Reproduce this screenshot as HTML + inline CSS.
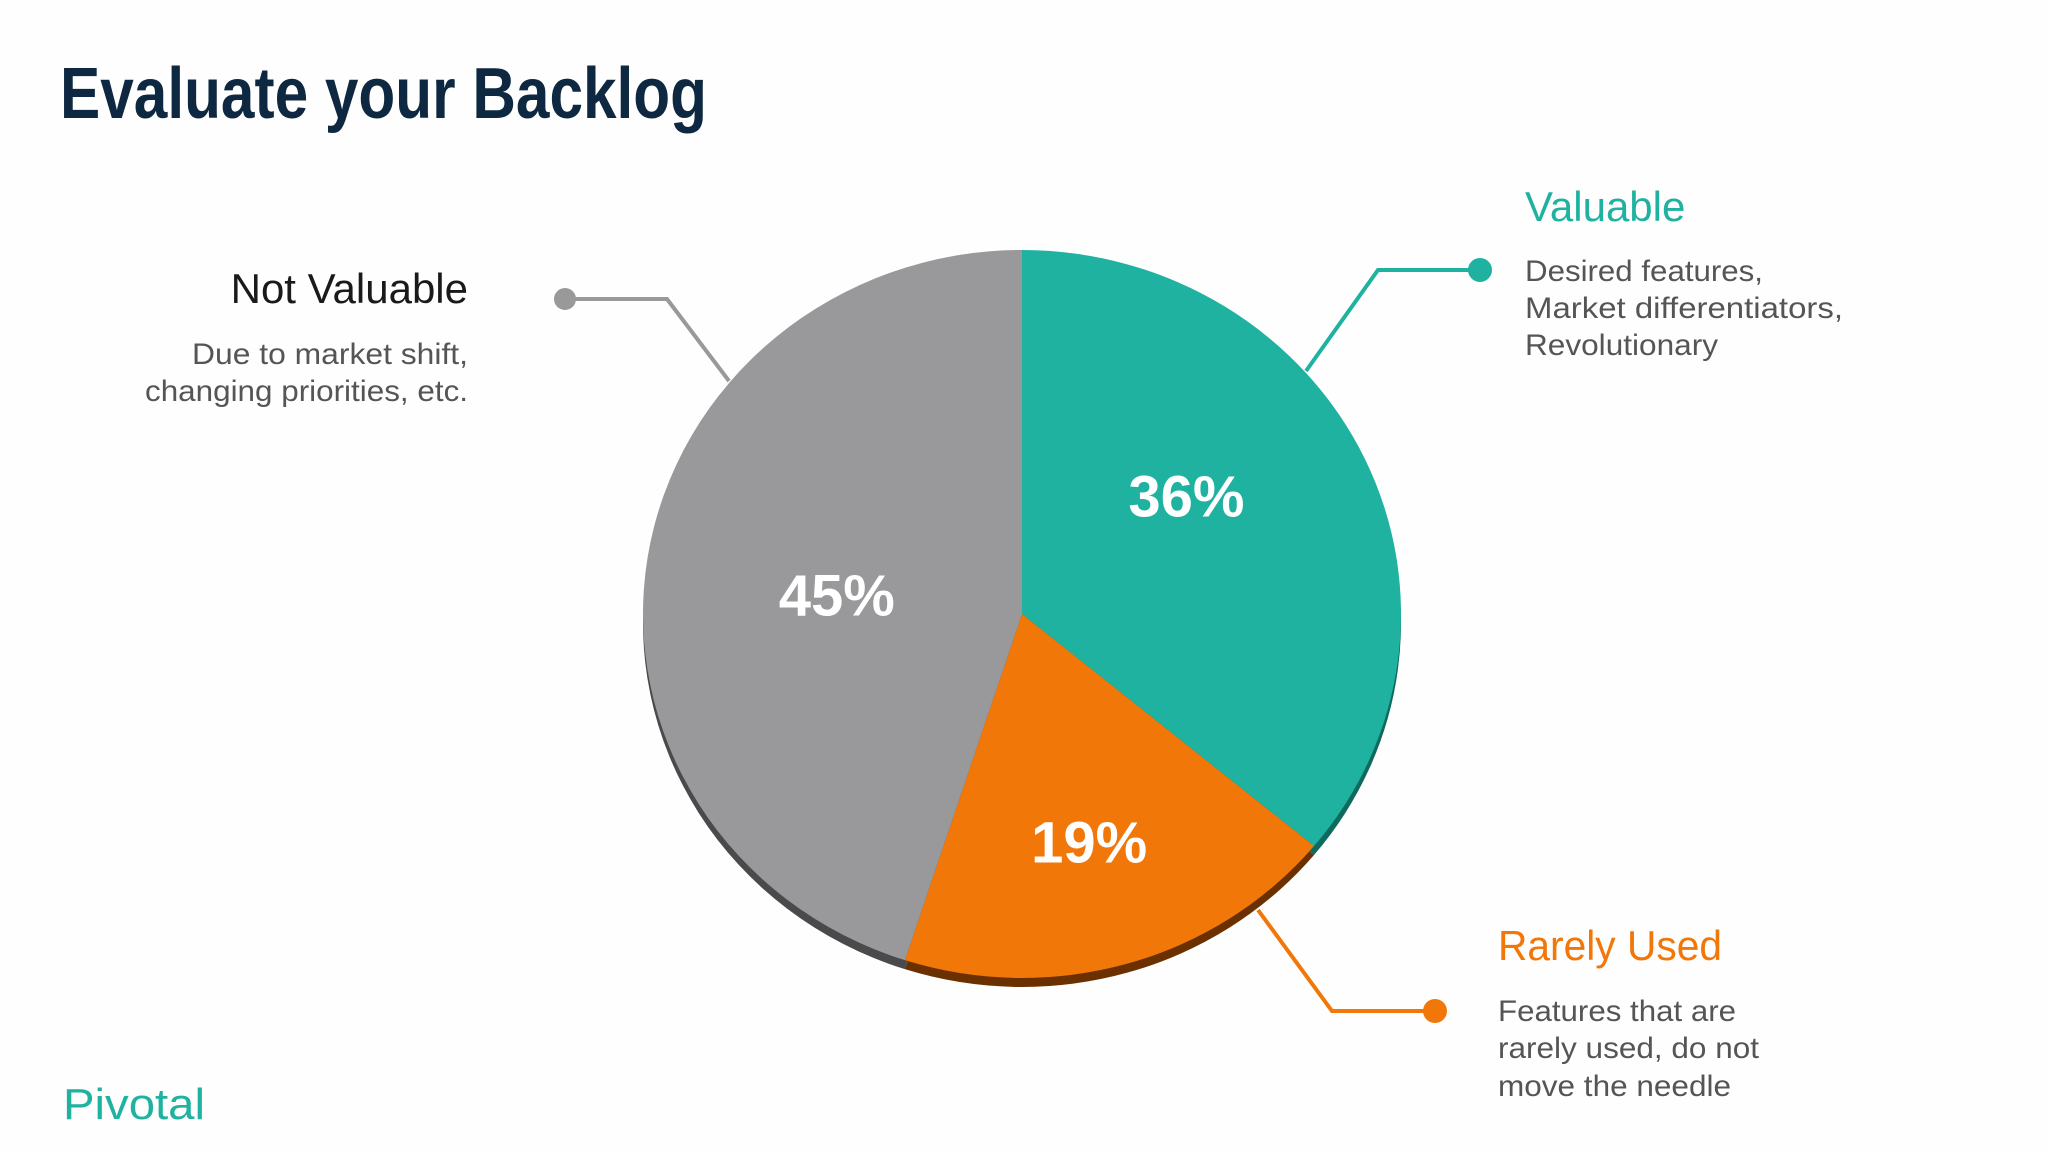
<!DOCTYPE html>
<html><head><meta charset="utf-8"><style>
html,body{margin:0;padding:0;background:#fefefe;}
svg{display:block;font-family:"Liberation Sans",sans-serif;}
</style></head><body>
<svg width="2048" height="1152" viewBox="0 0 2048 1152">
<rect width="2048" height="1152" fill="#fefefe"/>
<text x="60" y="118" font-size="72" font-weight="bold" fill="#0d2840" textLength="647" lengthAdjust="spacingAndGlyphs">Evaluate your Backlog</text>
<g id="pie"></g>
<g>
<polyline points="565,299 667,299 729,381" fill="none" stroke="#999" stroke-width="4"/>
<circle cx="565" cy="299" r="11" fill="#999"/>
<text x="468" y="303" font-size="42" fill="#1a1a1a" text-anchor="end">Not Valuable</text>
<text x="468" y="364" font-size="30" fill="#555" text-anchor="end" textLength="276" lengthAdjust="spacingAndGlyphs">Due to market shift,</text>
<text x="468" y="401" font-size="30" fill="#555" text-anchor="end" textLength="323" lengthAdjust="spacingAndGlyphs">changing priorities, etc.</text>
</g>
<g>
<polyline points="1480,270 1378,270 1306,371" fill="none" stroke="#20b2a0" stroke-width="4"/>
<circle cx="1480" cy="270" r="12" fill="#20b2a0"/>
<text x="1525" y="221" font-size="42" fill="#20b2a0">Valuable</text>
<text x="1525" y="281" font-size="30" fill="#555" textLength="238" lengthAdjust="spacingAndGlyphs">Desired features,</text>
<text x="1525" y="318" font-size="30" fill="#555" textLength="318" lengthAdjust="spacingAndGlyphs">Market differentiators,</text>
<text x="1525" y="355" font-size="30" fill="#555" textLength="193" lengthAdjust="spacingAndGlyphs">Revolutionary</text>
</g>
<g>
<polyline points="1435,1011 1332,1011 1258,910" fill="none" stroke="#f07708" stroke-width="4"/>
<circle cx="1435" cy="1011" r="12" fill="#f07708"/>
<text x="1498" y="960" font-size="42" fill="#f07708" textLength="224" lengthAdjust="spacingAndGlyphs">Rarely Used</text>
<text x="1498" y="1021" font-size="30" fill="#555" textLength="238" lengthAdjust="spacingAndGlyphs">Features that are</text>
<text x="1498" y="1058" font-size="30" fill="#555" textLength="261" lengthAdjust="spacingAndGlyphs">rarely used, do not</text>
<text x="1498" y="1096" font-size="30" fill="#555" textLength="233" lengthAdjust="spacingAndGlyphs">move the needle</text>
</g>
<text x="63" y="1119" font-size="44" fill="#20b2a0" textLength="142" lengthAdjust="spacingAndGlyphs">Pivotal</text>
</svg>
<script>
const categories = ["Valuable", "Rarely Used", "Not Valuable"];
const values = [36, 19, 45];
const labels = ["36%", "19%", "45%"];
const colors = ["#20b2a0", "#f07708", "#99989b"];
const shadows = ["#0e6a5e", "#6b3000", "#4a4a4c"];
const labelRadius = [0.5, 0.72, 0.5];
const labelDx = [-7, -9, 2];
const labelDy = [-17, 0, 33];
const cx = 1022, cy = 614, rx = 379, ry = 364;
const NS = "http://www.w3.org/2000/svg";
const g = document.getElementById('pie');
const total = values.reduce((a, b) => a + b, 0);
function pt(angle, dy, f) {
  f = f || 1;
  return [cx + Math.sin(angle) * rx * f, cy + (dy || 0) - Math.cos(angle) * ry * f];
}
function slicePath(a0, a1, dy) {
  const p0 = pt(a0, dy), p1 = pt(a1, dy);
  const large = (a1 - a0) > Math.PI ? 1 : 0;
  return `M${cx},${cy + dy} L${p0[0]},${p0[1]} A${rx},${ry} 0 ${large} 1 ${p1[0]},${p1[1]} Z`;
}
let acc = 0;
const angles = values.map(v => { const a0 = acc / total * 2 * Math.PI; acc += v; return [a0, acc / total * 2 * Math.PI]; });
angles.forEach((a, i) => {
  const s = document.createElementNS(NS, 'path');
  s.setAttribute('d', slicePath(a[0], a[1], 9));
  s.setAttribute('fill', shadows[i]);
  
  
  g.appendChild(s);
});
angles.forEach((a, i) => {
  const s = document.createElementNS(NS, 'path');
  s.setAttribute('d', slicePath(a[0], a[1], 0));
  s.setAttribute('fill', colors[i]);
  
  
  g.appendChild(s);
});
angles.forEach((a, i) => {
  const mid = (a[0] + a[1]) / 2;
  const p = pt(mid, 0, labelRadius[i]);
  const t = document.createElementNS(NS, 'text');
  t.setAttribute('x', p[0] + labelDx[i]);
  t.setAttribute('y', p[1] - 3 + labelDy[i]);
  t.setAttribute('text-anchor', 'middle');
  t.setAttribute('font-size', '58');
  t.setAttribute('font-weight', 'bold');
  t.setAttribute('fill', '#fff');
  t.textContent = labels[i];
  
  
  g.appendChild(t);
});
</script>
</body></html>
